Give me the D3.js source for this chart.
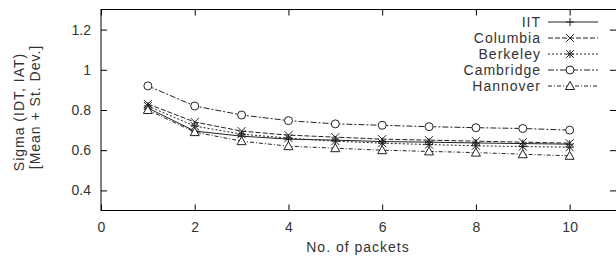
<!DOCTYPE html>
<html>
<head>
<meta charset="utf-8">
<script src="https://cdn.jsdelivr.net/npm/d3@7"></script>
<style>
  body { margin: 0; background: #fff; }
  text { font-family: "Liberation Sans", Arial, sans-serif; fill: #333; }
</style>
</head>
<body>
<div id="chart"></div>
<script>
// values
var packets = [1, 2, 3, 4, 5, 6, 7, 8, 9, 10];
var iit       = [0.81, 0.695, 0.67, 0.655, 0.65, 0.643, 0.64, 0.636, 0.633, 0.63];
var columbia  = [0.83, 0.74, 0.695, 0.675, 0.665, 0.655, 0.65, 0.645, 0.64, 0.635];
var berkeley  = [0.82, 0.72, 0.68, 0.66, 0.645, 0.635, 0.628, 0.622, 0.618, 0.615];
var cambridge = [0.92, 0.82, 0.775, 0.747, 0.731, 0.724, 0.717, 0.712, 0.708, 0.70];
var hannover  = [0.80, 0.69, 0.645, 0.62, 0.61, 0.60, 0.594, 0.588, 0.58, 0.572];
var seriesNames = ["IIT", "Columbia", "Berkeley", "Cambridge", "Hannover"];
var xTicks = [0, 2, 4, 6, 8, 10];
var yTicks = [0.4, 0.6, 0.8, 1, 1.2];

var W = 616, H = 261;
var plot = { left: 101, right: 616.5, top: 9.5, bottom: 210.5 };

var series = [
    { name: seriesNames[0], values: iit, dash: null, marker: "plus" },
    { name: seriesNames[1], values: columbia, dash: "5,2", marker: "cross" },
    { name: seriesNames[2], values: berkeley, dash: "2,2", marker: "star" },
    { name: seriesNames[3], values: cambridge, dash: "6,2,2,2", marker: "circle" },
    { name: seriesNames[4], values: hannover, dash: "4,2,1,2", marker: "triangle" }
];

var x = d3.scaleLinear().domain([0, 11]).range([plot.left, plot.right]);
var y = d3.scaleLinear().domain([0.3, 1.3]).range([plot.bottom, plot.top]);

var svg = d3.select("#chart").append("svg")
    .attr("width", W)
    .attr("height", H);

// frame
svg.append("rect")
    .attr("x", plot.left).attr("y", plot.top)
    .attr("width", plot.right - plot.left).attr("height", plot.bottom - plot.top)
    .attr("fill", "none").attr("stroke", "#000").attr("stroke-width", 1);

// axes, ticks pointing inward
function styleAxis(g) {
    g.select(".domain").remove();
    g.selectAll(".tick line").attr("stroke", "#000");
    g.selectAll(".tick text")
        .style("font-family", "Liberation Sans, Arial, sans-serif")
        .style("font-size", "14px")
        .attr("fill", "#333");
}

svg.append("g")
    .attr("transform", "translate(0," + plot.bottom + ")")
    .call(d3.axisBottom(x).tickValues(xTicks).tickSize(-6).tickPadding(12).tickFormat(d3.format("~g")))
    .call(styleAxis);

svg.append("g")
    .attr("transform", "translate(0," + plot.top + ")")
    .call(d3.axisTop(x).tickValues(xTicks).tickSize(-6).tickFormat(""))
    .call(styleAxis);

svg.append("g")
    .attr("transform", "translate(" + plot.left + ",0)")
    .call(d3.axisLeft(y).tickValues(yTicks).tickSize(-6).tickPadding(10).tickFormat(d3.format("~g")))
    .call(styleAxis);

svg.append("g")
    .attr("transform", "translate(" + (plot.right - 0.5) + ",0)")
    .call(d3.axisRight(y).tickValues(yTicks).tickSize(-6).tickFormat(""))
    .call(styleAxis);

// axis titles
svg.append("text")
    .attr("x", 358).attr("y", 252)
    .attr("text-anchor", "middle")
    .style("font-size", "14px")
    .style("letter-spacing", "1px")
    .text("No. of packets");

svg.append("text")
    .attr("transform", "translate(24,112) rotate(-90)")
    .attr("text-anchor", "middle")
    .style("font-size", "14px")
    .style("letter-spacing", "1px")
    .text("Sigma (IDT, IAT)");

svg.append("text")
    .attr("transform", "translate(40,107) rotate(-90)")
    .attr("text-anchor", "middle")
    .style("font-size", "14px")
    .style("letter-spacing", "1px")
    .text("[Mean + St. Dev.]");

// markers
function drawMarker(g, type, cx, cy) {
    var s = 4;
    if (type == "plus") {
        g.append("path").attr("d", "M" + (cx - s) + "," + cy + "H" + (cx + s) + "M" + cx + "," + (cy - s) + "V" + (cy + s));
    } else if (type == "cross") {
        g.append("path").attr("d", "M" + (cx - s) + "," + (cy - s) + "L" + (cx + s) + "," + (cy + s) +
            "M" + (cx - s) + "," + (cy + s) + "L" + (cx + s) + "," + (cy - s));
    } else if (type == "star") {
        g.append("path").attr("d", "M" + (cx - s) + "," + (cy - s) + "L" + (cx + s) + "," + (cy + s) +
            "M" + (cx - s) + "," + (cy + s) + "L" + (cx + s) + "," + (cy - s) +
            "M" + (cx - s) + "," + cy + "H" + (cx + s) + "M" + cx + "," + (cy - s) + "V" + (cy + s));
    } else if (type == "circle") {
        g.append("circle").attr("cx", cx).attr("cy", cy).attr("r", 4).attr("fill", "#fff");
    } else if (type == "triangle") {
        g.append("path").attr("fill", "#fff")
            .attr("d", "M" + cx + "," + (cy - 4.5) + "L" + (cx + 4.5) + "," + (cy + 3.5) + "L" + (cx - 4.5) + "," + (cy + 3.5) + "Z");
    }
}

var line = d3.line()
    .x(function (d, i) { return x(packets[i]); })
    .y(function (d) { return y(d); });

series.forEach(function (s) {
    var g = svg.append("g").attr("stroke", "#222").attr("stroke-width", 1).attr("fill", "none");
    g.append("path")
        .attr("d", line(s.values))
        .attr("stroke-dasharray", s.dash);
    s.values.forEach(function (v, i) {
        drawMarker(g, s.marker, x(packets[i]), y(v));
    });
});

// legend
series.forEach(function (s, i) {
    var ly = 22 + i * 16;
    svg.append("text")
        .attr("x", 541).attr("y", ly)
        .attr("dy", "0.36em")
        .attr("text-anchor", "end")
        .style("font-size", "14px")
        .style("letter-spacing", "1px")
        .text(s.name);
    var g = svg.append("g").attr("stroke", "#222").attr("stroke-width", 1).attr("fill", "none");
    g.append("path")
        .attr("d", "M548," + ly + "H598")
        .attr("stroke-dasharray", s.dash);
    drawMarker(g, s.marker, 570, ly);
});
</script>
</body>
</html>
